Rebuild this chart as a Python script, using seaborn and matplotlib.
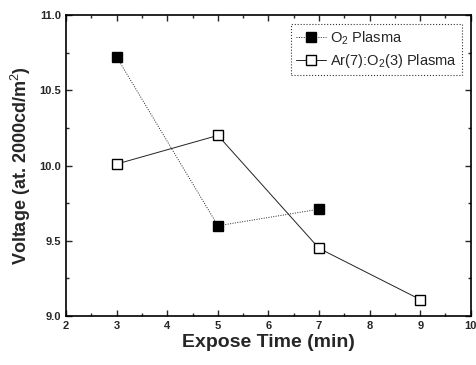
import numpy as np
import pandas as pd
import matplotlib
matplotlib.use("Agg")
import matplotlib.pyplot as plt
from matplotlib.ticker import MultipleLocator
import seaborn as sns

# data
o2_time = [3, 5, 7]
o2_voltage = [10.72, 9.60, 9.71]
ar_time = [3, 5, 7, 9]
ar_voltage = [10.01, 10.20, 9.45, 9.11]

o2_label = r"O$_2$ Plasma"
ar_label = r"Ar(7):O$_2$(3) Plasma"

df = pd.concat([
    pd.DataFrame({"time": o2_time, "voltage": o2_voltage, "series": o2_label}),
    pd.DataFrame({"time": ar_time, "voltage": ar_voltage, "series": ar_label}),
])

sns.set_theme(style="ticks")
plt.rcParams["font.family"] = ["Liberation Sans", "DejaVu Sans"]
plt.rcParams["mathtext.fontset"] = "custom"
plt.rcParams["mathtext.rm"] = "Liberation Sans"

fig = plt.figure(figsize=(4.76, 3.65), dpi=100)
ax = fig.add_axes([0.139, 0.134, 0.850, 0.825])

sns.lineplot(data=df, x="time", y="voltage", hue="series", style="series",
             palette={o2_label: "#222222", ar_label: "#222222"},
             dashes={o2_label: (1, 1.5), ar_label: ""},
             markers={o2_label: "s", ar_label: "s"},
             markersize=7.5, linewidth=0.7, ax=ax, legend=False)

# marker faces: filled for O2, open for Ar/O2
for line, face in zip(ax.get_lines(), ["black", "white"]):
    line.set_markerfacecolor(face)
    line.set_markeredgecolor("black")
    line.set_markeredgewidth(1.0)

ax.set_xlim(2, 10)
ax.set_ylim(9.0, 11.0)
ax.xaxis.set_major_locator(MultipleLocator(1))
ax.xaxis.set_minor_locator(MultipleLocator(0.5))
ax.yaxis.set_major_locator(MultipleLocator(0.5))
ax.yaxis.set_minor_locator(MultipleLocator(0.25))
ax.yaxis.set_major_formatter(matplotlib.ticker.FormatStrFormatter("%.1f"))
ax.tick_params(which="both", direction="in", top=True, right=True,
               labelsize=8, width=1.0)
ax.tick_params(which="major", length=4)
ax.tick_params(which="minor", length=2)
for lab in ax.get_xticklabels() + ax.get_yticklabels():
    lab.set_fontweight("bold")
for sp in ax.spines.values():
    sp.set_linewidth(1.2)
    sp.set_color("black")

ax.set_xlabel("Expose Time (min)", fontsize=14, fontweight="bold", labelpad=2)
ax.set_ylabel(r"Voltage (at. 2000cd/m$^2$)", fontsize=13, fontweight="bold", labelpad=5)

handles = [
    plt.Line2D([], [], color="#222222", lw=0.7, dashes=(1, 1.5), marker="s",
               markersize=7.5, markerfacecolor="black", markeredgecolor="black"),
    plt.Line2D([], [], color="#222222", lw=0.7, marker="s", markersize=7.5,
               markerfacecolor="white", markeredgecolor="black"),
]
leg = ax.legend(handles, [o2_label, ar_label], loc="upper right", fontsize=10.5,
                frameon=True, fancybox=False, handlelength=2.0, handletextpad=0.3,
                borderpad=0.35, labelspacing=0.35, borderaxespad=0.6)
leg.get_frame().set_edgecolor("black")
leg.get_frame().set_linestyle(":")
leg.get_frame().set_linewidth(0.8)

fig.savefig("out.png", dpi=100)
